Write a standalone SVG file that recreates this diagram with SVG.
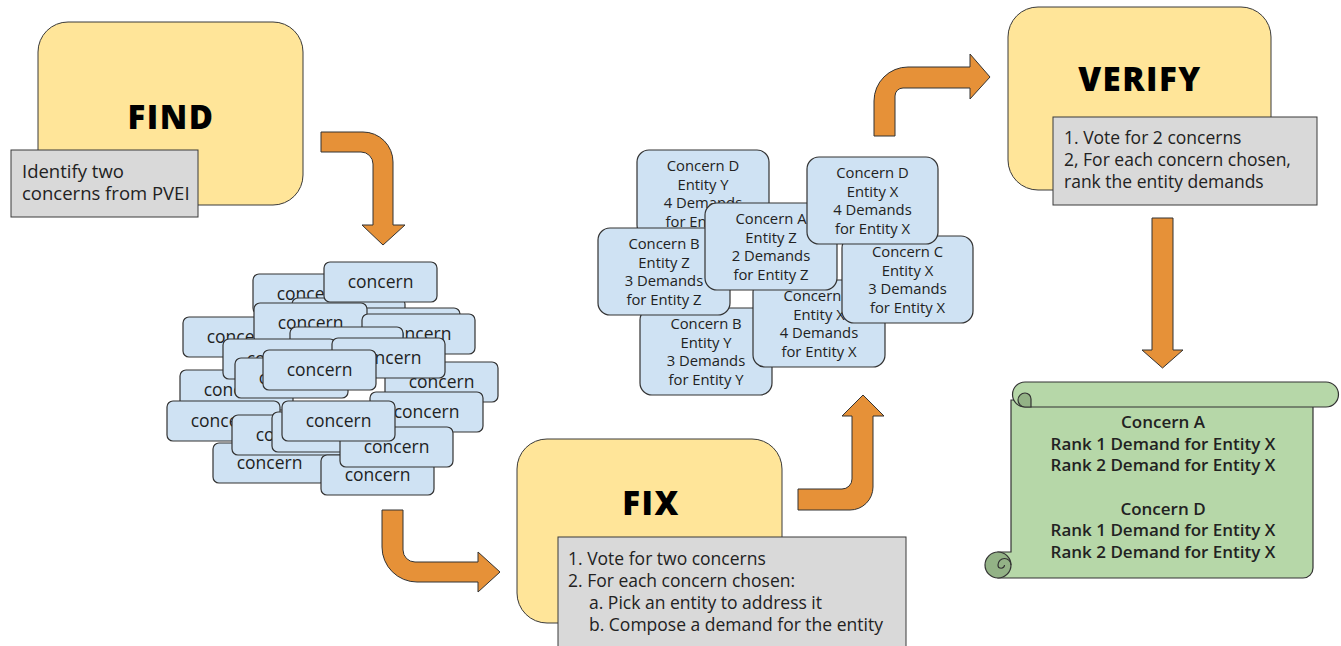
<svg xmlns="http://www.w3.org/2000/svg" width="1341" height="646" viewBox="0 0 1341 646">
<style>
.bg{fill:#ffffff}
.stage{fill:#FFE599;stroke:#3a3a3a;stroke-width:1}
.note{fill:#D9D9D9;stroke:#3a3a3a;stroke-width:1}
.card{fill:#CFE2F3;stroke:#333333;stroke-width:1.2}
.arrow{fill:#E69138;stroke:#333333;stroke-width:1}
.scroll{fill:#B6D7A8;stroke:#333333;stroke-width:1.2}
.curl{fill:#93B286;stroke:#333333;stroke-width:1.2}
.title{font-family:"Open Sans","Liberation Sans",sans-serif;font-weight:800;font-size:33px;fill:#000;text-anchor:middle;letter-spacing:1.5px}
.nt{font-family:"Open Sans","Liberation Sans",sans-serif;font-size:17.5px;fill:#222}
.nt2{font-family:"Open Sans","Liberation Sans",sans-serif;font-size:18.5px;fill:#222}
.ct{font-family:"Open Sans","Liberation Sans",sans-serif;font-size:17.5px;fill:#222;text-anchor:middle}
.dt{font-family:"Open Sans","Liberation Sans",sans-serif;font-size:14.8px;fill:#222;text-anchor:middle}
.st{font-family:"Open Sans","Liberation Sans",sans-serif;font-size:17px;font-weight:600;fill:#222;text-anchor:middle}
</style>
<rect class="bg" x="0" y="0" width="1341" height="646"/>

<g id="find">
<rect class="stage" x="38" y="22" width="265" height="183" rx="30"/>
<text class="title" x="171" y="129">FIND</text>
<rect class="note" x="11" y="150" width="187" height="67"/>
<text class="nt2" x="22" y="178">Identify two</text>
<text class="nt2" x="22" y="200">concerns from PVEI</text>
</g>

<g id="concern-pile">
<g><rect class="card" x="253" y="274" width="113" height="40" rx="6"/><text class="ct" x="309.5" y="300">concern</text></g>
<g><rect class="card" x="292" y="298" width="113" height="40" rx="6"/><text class="ct" x="348.5" y="324">concern</text></g>
<g><rect class="card" x="324" y="262" width="113" height="40" rx="6"/><text class="ct" x="380.5" y="288">concern</text></g>
<g><rect class="card" x="347" y="308" width="113" height="40" rx="6"/><text class="ct" x="403.5" y="334">concern</text></g>
<g><rect class="card" x="183" y="317" width="113" height="40" rx="6"/><text class="ct" x="239.5" y="343">concern</text></g>
<g><rect class="card" x="254" y="303" width="113" height="40" rx="6"/><text class="ct" x="310.5" y="329">concern</text></g>
<g><rect class="card" x="362" y="314" width="113" height="40" rx="6"/><text class="ct" x="418.5" y="340">concern</text></g>
<g><rect class="card" x="180" y="370" width="113" height="40" rx="6"/><text class="ct" x="236.5" y="396">concern</text></g>
<g><rect class="card" x="290" y="327" width="113" height="40" rx="6"/><text class="ct" x="346.5" y="353">concern</text></g>
<g><rect class="card" x="223" y="339" width="113" height="40" rx="6"/><text class="ct" x="279.5" y="365">concern</text></g>
<g><rect class="card" x="385" y="362" width="113" height="40" rx="6"/><text class="ct" x="441.5" y="388">concern</text></g>
<g><rect class="card" x="332" y="338" width="113" height="40" rx="6"/><text class="ct" x="388.5" y="364">concern</text></g>
<g><rect class="card" x="235" y="358" width="113" height="40" rx="6"/><text class="ct" x="291.5" y="384">concern</text></g>
<g><rect class="card" x="263" y="350" width="113" height="40" rx="6"/><text class="ct" x="319.5" y="376">concern</text></g>
<g><rect class="card" x="370" y="392" width="113" height="40" rx="6"/><text class="ct" x="426.5" y="418">concern</text></g>
<g><rect class="card" x="167" y="401" width="113" height="40" rx="6"/><text class="ct" x="223.5" y="427">concern</text></g>
<g><rect class="card" x="213" y="443" width="113" height="40" rx="6"/><text class="ct" x="269.5" y="469">concern</text></g>
<g><rect class="card" x="232" y="415" width="113" height="40" rx="6"/><text class="ct" x="288.5" y="441">concern</text></g>
<g><rect class="card" x="272" y="412" width="113" height="40" rx="6"/><text class="ct" x="328.5" y="438">concern</text></g>
<g><rect class="card" x="321" y="455" width="113" height="40" rx="6"/><text class="ct" x="377.5" y="481">concern</text></g>
<g><rect class="card" x="340" y="427" width="113" height="40" rx="6"/><text class="ct" x="396.5" y="453">concern</text></g>
<g><rect class="card" x="282" y="401" width="113" height="40" rx="6"/><text class="ct" x="338.5" y="427">concern</text></g>
</g>

<g id="fix">
<rect class="stage" x="517" y="439" width="265" height="184" rx="30"/>
<text class="title" x="651" y="515">FIX</text>
<rect class="note" x="558" y="537" width="348" height="130"/>
<text class="nt" x="568" y="565">1. Vote for two concerns</text>
<text class="nt" x="568" y="587">2. For each concern chosen:</text>
<text class="nt" x="589" y="609">a. Pick an entity to address it</text>
<text class="nt" x="589" y="631">b. Compose a demand for the entity</text>
</g>

<g id="demand-cards">
<g id="card-d-y"><rect class="card" x="637" y="150" width="132" height="87" rx="12"/>
<text class="dt" x="703" y="171">Concern D</text><text class="dt" x="703" y="189.5">Entity Y</text><text class="dt" x="703" y="208">4 Demands</text><text class="dt" x="703" y="226.5">for Entity Y</text></g>
<g id="card-b-y"><rect class="card" x="640" y="308" width="132" height="87" rx="12"/>
<text class="dt" x="706" y="329">Concern B</text><text class="dt" x="706" y="347.5">Entity Y</text><text class="dt" x="706" y="366">3 Demands</text><text class="dt" x="706" y="384.5">for Entity Y</text></g>
<g id="card-a-x"><rect class="card" x="753" y="280" width="132" height="87" rx="12"/>
<text class="dt" x="819" y="301">Concern A</text><text class="dt" x="819" y="319.5">Entity X</text><text class="dt" x="819" y="338">4 Demands</text><text class="dt" x="819" y="356.5">for Entity X</text></g>
<g id="card-b-z"><rect class="card" x="598" y="228" width="132" height="87" rx="12"/>
<text class="dt" x="664" y="249">Concern B</text><text class="dt" x="664" y="267.5">Entity Z</text><text class="dt" x="664" y="286">3 Demands</text><text class="dt" x="664" y="304.5">for Entity Z</text></g>
<g id="card-a-z"><rect class="card" x="705" y="203" width="132" height="87" rx="12"/>
<text class="dt" x="771" y="224">Concern A</text><text class="dt" x="771" y="242.5">Entity Z</text><text class="dt" x="771" y="261">2 Demands</text><text class="dt" x="771" y="279.5">for Entity Z</text></g>
<g id="card-c-x"><rect class="card" x="842" y="236" width="131" height="87" rx="12"/>
<text class="dt" x="907.5" y="257">Concern C</text><text class="dt" x="907.5" y="275.5">Entity X</text><text class="dt" x="907.5" y="294">3 Demands</text><text class="dt" x="907.5" y="312.5">for Entity X</text></g>
<g id="card-d-x"><rect class="card" x="807" y="157" width="131" height="87" rx="12"/>
<text class="dt" x="872.5" y="178">Concern D</text><text class="dt" x="872.5" y="196.5">Entity X</text><text class="dt" x="872.5" y="215">4 Demands</text><text class="dt" x="872.5" y="233.5">for Entity X</text></g>
</g>

<g id="verify">
<rect class="stage" x="1008" y="7" width="263" height="183" rx="30"/>
<text class="title" x="1140" y="91">VERIFY</text>
<rect class="note" x="1053" y="117" width="264" height="88"/>
<text class="nt" x="1064" y="144">1. Vote for 2 concerns</text>
<text class="nt" x="1064" y="166">2, For each concern chosen,</text>
<text class="nt" x="1064" y="188">rank the entity demands</text>
</g>

<g id="result-scroll">
<path class="scroll" d="M1011,400 H1313 V568 A10,10 0 0 1 1303,578 H998 V552 H1011 Z"/>
<circle class="curl" cx="998" cy="565" r="13"/>
<path d="M1011,565 A6.5,6.5 0 0 0 998,565 A3.25,3.25 0 0 0 1004.5,565" fill="none" stroke="#333" stroke-width="1.2"/>
<path class="scroll" d="M1025,382 H1326 A12.5,12.5 0 0 1 1326,407 H1025 A12.5,12.5 0 0 1 1025,382 Z"/>
<path class="curl" d="M1025,407 A7,7 0 0 1 1025,393 A6,6 0 0 1 1031,399 V407 Z"/>
<text class="st" x="1163" y="428">Concern A</text>
<text class="st" x="1163" y="450">Rank 1 Demand for Entity X</text>
<text class="st" x="1163" y="471">Rank 2 Demand for Entity X</text>
<text class="st" x="1163" y="515">Concern D</text>
<text class="st" x="1163" y="536">Rank 1 Demand for Entity X</text>
<text class="st" x="1163" y="558">Rank 2 Demand for Entity X</text>
</g>

<g id="connectors">
<path class="arrow" d="M321,132 H363 A30,30 0 0 1 393,162 V225 H405 L383,245 L362,225 H373 V164 A12,12 0 0 0 361,152 H321 Z"/>
<path class="arrow" d="M382,510 H403 V550 A12,12 0 0 0 415,562 H478 V552 L500,572 L478,592 V582 H417 A35,35 0 0 1 382,547 Z"/>
<path class="arrow" d="M798,489 H842 A10,10 0 0 0 852,479 V416 H842 L863,395 L884,416 H873 V487 A23,23 0 0 1 850,510 H798 Z"/>
<path class="arrow" d="M874,136 V101 A34,34 0 0 1 908,67 H970 V54 L990,77 L970,99 V88 H903 A8,8 0 0 0 895,96 V136 Z"/>
<path class="arrow" d="M1152,218 H1173 V350 H1183 L1162.5,368 L1142,350 H1152 Z"/>
</g>
</svg>
